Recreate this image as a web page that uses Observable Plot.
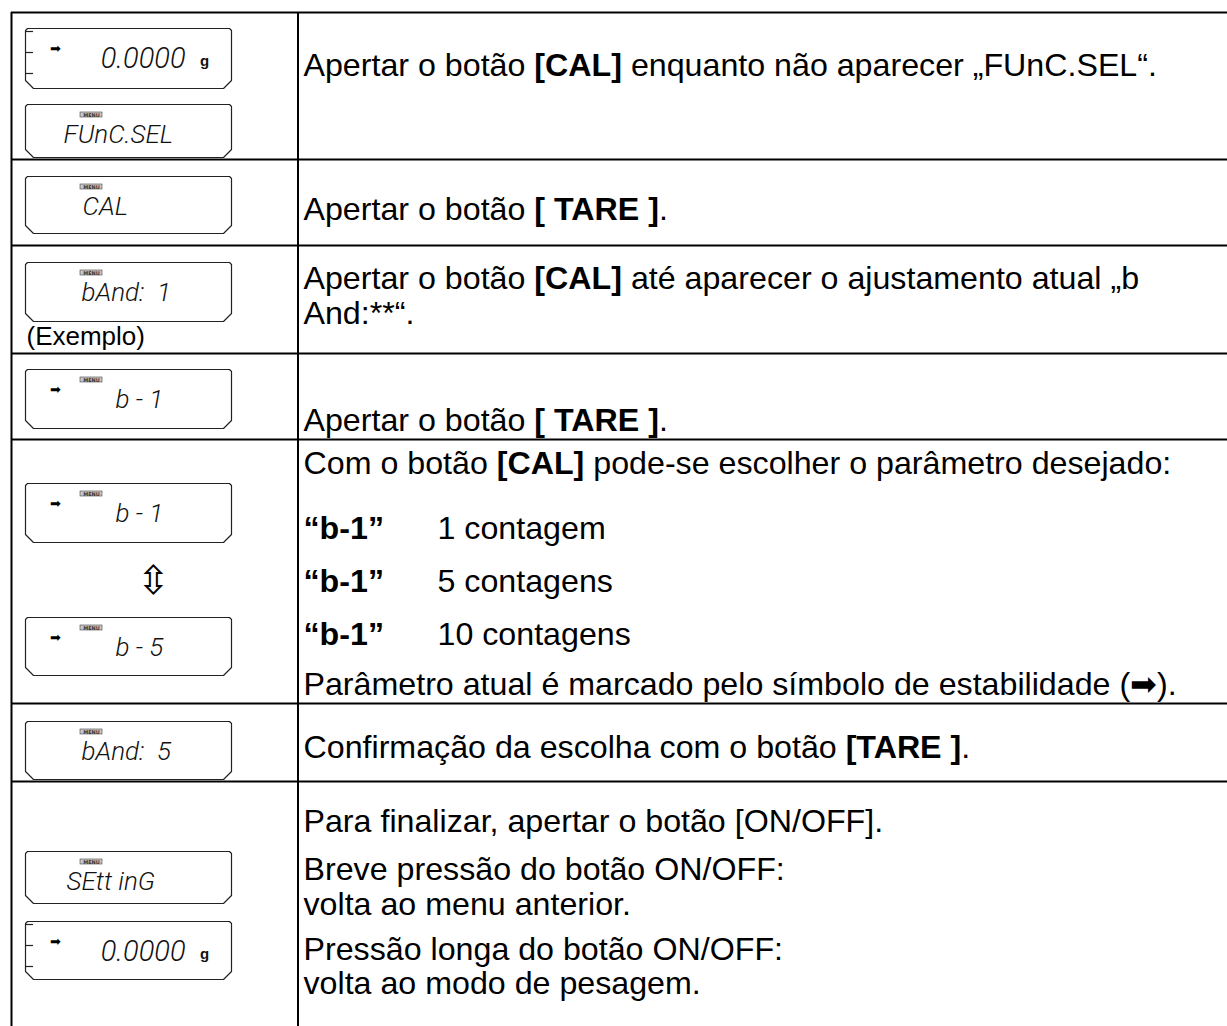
<!DOCTYPE html>
<html><head><meta charset="utf-8">
<script src="https://cdn.jsdelivr.net/npm/d3@7"></script>
<script src="https://cdn.jsdelivr.net/npm/@observablehq/plot@0.6"></script>
<style>
html,body{margin:0;padding:0;background:#fff;}
svg text{white-space:pre;}
</style>
</head><body><div id="chart"></div>
<script>
// ---------------- content (data) ----------------
const descriptionLines = [
  "Apertar o botão §[CAL]§ enquanto não aparecer „FUnC.SEL“.",
  "Apertar o botão §[ TARE ]§.",
  "Apertar o botão §[CAL]§ até aparecer o ajustamento atual „b",
  "And:**“.",
  "Apertar o botão §[ TARE ]§.",
  "Com o botão §[CAL]§ pode-se escolher o parâmetro desejado:",
  "Parâmetro atual é marcado pelo símbolo de estabilidade (➡).",
  "Confirmação da escolha com o botão §[TARE ]§.",
  "Para finalizar, apertar o botão [ON/OFF].",
  "Breve pressão do botão ON/OFF:",
  "volta ao menu anterior.",
  "Pressão longa do botão ON/OFF:",
  "volta ao modo de pesagem."
];
const optionCodes = ["“b-1”", "“b-1”", "“b-1”"];
const optionLabels = ["1 contagem", "5 contagens", "10 contagens"];
const displayReadings = ["0.0000", "FUnC.SEL", "CAL", "bAnd:  1", "b - 1", "b - 1", "b - 5", "bAnd:  5", "SEtt inG", "0.0000"];
const displayKinds = ["weigh", "menu", "menu", "menu", "stable", "stable", "stable", "menu", "menu", "weigh"];
const weighUnit = "g";
const menuLabel = "MENU";
const exampleNote = "(Exemplo)";
const toggleSymbol = "⇳";
const stableSymbol = "➡";

// ---------------- layout (positions / sizes) ----------------
const W = 1227, H = 1026;
const tableLeft = 11, tableTop = 12, colDivider = 297.5, tableRight = W + 20, tableBottom = H + 20;
const rowSeparators = [159, 245, 353, 439, 703, 781];
const textX = 303, optionLabelX = 437;
const descBaselines = [75, 219, 288, 323, 430, 473, 694, 757, 831, 879, 914, 959, 993];
const optionBaselines = [538, 591, 644];
const bodySize = 32.2;
const boxLeft = 25, boxRight = 231, chamfer = 8;
const displayTops = [28, 104, 176, 262, 369, 483, 617, 721, 851, 921];
const displayBottoms = [88, 157, 233, 321, 428, 542, 675, 779, 903, 979];
const readingX = [185, 63, 82, 81, 115, 115, 115, 81, 66, 185];
const lcdFont = "Roboto, 'DejaVu Sans', sans-serif";
const bodyFont = "'Liberation Sans', Arial, sans-serif";

// ---------------- derived tables ----------------
const mid = (baseline, fs) => baseline - 0.32 * fs;
const descRows = descriptionLines.map((t, i) => ({text: t, x: textX, y: mid(descBaselines[i], bodySize)}));
const optRows = optionCodes.map((c, i) => ({code: c, label: optionLabels[i], y: mid(optionBaselines[i], bodySize)}));
const displays = displayReadings.map((r, i) => ({
  id: i, reading: r, kind: displayKinds[i], top: displayTops[i], bottom: displayBottoms[i], x: readingX[i]
}));
const outline = displays.flatMap(d => {
  const L = boxLeft, R = boxRight, T = d.top, B = d.bottom, r = 2, c = chamfer;
  return [[L, T + r], [L + r, T], [R - r, T], [R, T + r], [R, B - c], [R - c, B], [L + c, B], [L, B - c], [L, T + r]]
    .map(([x, y]) => ({id: d.id, x, y}));
});
const weigh = displays.filter(d => d.kind === "weigh");
const menus = displays.filter(d => d.kind !== "weigh");
const stables = displays.filter(d => d.kind !== "menu");
const others = displays.filter(d => d.kind !== "weigh");
const dashes = weigh.flatMap(d => [3, 24, 45].map(o => ({y: d.top + o})));

const chart = Plot.plot({
  width: W, height: H,
  marginTop: 0, marginRight: 0, marginBottom: 0, marginLeft: 0,
  x: {domain: [0, W], range: [0, W], axis: null},
  y: {domain: [0, H], range: [0, H], axis: null},
  style: {background: "#fff", fontFamily: bodyFont},
  marks: [
    // table grid
    Plot.ruleY([tableTop, ...rowSeparators], {y: d => d, x1: tableLeft, x2: tableRight, stroke: "#000", strokeWidth: 2}),
    Plot.ruleX([tableLeft, colDivider], {x: d => d, y1: tableTop, y2: tableBottom, stroke: "#000", strokeWidth: 2}),
    // LCD outlines
    Plot.line(outline, {x: "x", y: "y", z: "id", stroke: "#222", strokeWidth: 1.2, curve: "linear"}),
    // weigh display dashes
    Plot.ruleY(dashes, {y: "y", x1: boxLeft, x2: boxLeft + 8, stroke: "#222", strokeWidth: 1.2}),
    // MENU labels
    Plot.rect(menus, {x1: 80, x2: 102, y1: d => d.top + 8, y2: d => d.top + 13, fill: "#c8c8c8", stroke: "#444", strokeWidth: 0.6}),
    Plot.text(menus, {x: 91, y: d => d.top + 10.5, text: () => menuLabel, fontSize: 5, fontWeight: "bold", fill: "#333", fontFamily: "'DejaVu Sans', sans-serif"}),
    // stability arrows
    Plot.text(stables, {x: 55, y: d => d.top + 20, text: () => stableSymbol, fontSize: 13, fill: "#000", fontFamily: "'DejaVu Sans', sans-serif"}),
    // readings
    Plot.text(weigh, {x: "x", y: d => mid(d.top + 39, 29), text: "reading", textAnchor: "end", fontSize: 29, fontStyle: "italic", fontWeight: 300, fontFamily: lcdFont, fill: "#111"}),
    Plot.text(weigh, {x: 204, y: d => mid(d.top + 37, 15), text: () => weighUnit, fontSize: 15, fontWeight: "bold", fill: "#111"}),
    Plot.text(others, {x: "x", y: d => mid(d.top + 38, 26), text: "reading", textAnchor: "start", fontSize: 26, fontStyle: "italic", fontWeight: 300, fontFamily: lcdFont, fill: "#111", letterSpacing: 2}),
    // toggle symbol & example note
    Plot.text([toggleSymbol], {x: 153, y: 581, text: d => d, fontSize: 40, fill: "#000", fontFamily: "'DejaVu Sans', sans-serif"}),
    Plot.text([exampleNote], {x: 26, y: mid(344, 26), text: d => d, textAnchor: "start", fontSize: 26, fill: "#000"}),
    // descriptions
    Plot.text(descRows, {x: "x", y: "y", text: "text", textAnchor: "start", fontSize: bodySize, fill: "#000"}),
    Plot.text(optRows, {x: textX, y: "y", text: d => "§" + d.code + "§", textAnchor: "start", fontSize: bodySize, fill: "#000"}),
    Plot.text(optRows, {x: optionLabelX, y: "y", text: "label", textAnchor: "start", fontSize: bodySize, fill: "#000"})
  ]
});

// bold segments marked with §
const NS = "http://www.w3.org/2000/svg";
d3.select(chart).selectAll("text").each(function() {
  const t = this.textContent;
  if (!t.includes("§")) return;
  const parts = t.split("§");
  while (this.firstChild) this.removeChild(this.firstChild);
  parts.forEach((p, i) => {
    if (!p) return;
    const ts = document.createElementNS(NS, "tspan");
    if (i % 2 === 1) ts.setAttribute("font-weight", "bold");
    ts.textContent = p;
    this.appendChild(ts);
  });
});
document.getElementById("chart").appendChild(chart);
</script>
</body></html>
